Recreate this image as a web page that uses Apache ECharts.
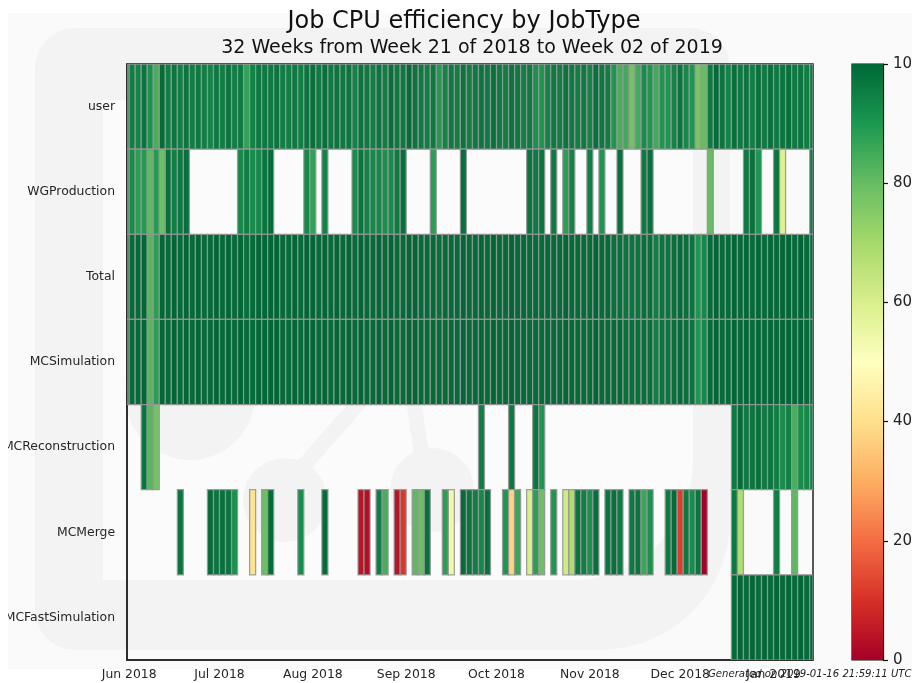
<!DOCTYPE html>
<html><head><meta charset="utf-8">
<style>html,body{margin:0;padding:0;background:#fff}#c{width:912px;height:683px}</style>
<script src="https://cdn.jsdelivr.net/npm/echarts@6/dist/echarts.min.js"></script>
</head><body><div id="c"></div>
<script>
const n = null;
const jobTypes = ['user','WGProduction','Total','MCSimulation','MCReconstruction','MCMerge','MCFastSimulation'];
const user = [94,95,94,97,91,84,99,95,97,95, 97,95,96,95,94,96,95,97,95,96, 87,94,96,96,96,97,95,95,96,95, 97,98,96,98,96,97,96,97,94,97, 96,95,97,95,98,96,96,99,97,96, 95,96,89,94,96,95,97,95,96,97, 96,98,96,95,97,96,95,96,91,90, 94,96,95,97,96,95,96,94,98,96, 95,90,84,85,78,85,92,90,85,90, 90,94,97,93,90,77,80,96,99,97, 94,98,96,97,95,98,96,98,96,97, 98,96,97,95,96];
const wgProduction = [92,92,88,89,81,89,79,98,95,96, 98,n,n,n,n,n,n,n,n,93, 95,92,93,97,99,n,n,n,n,n, 93,87,n,94,n,n,n,n,92,97, 94,93,93,91,92,96,98,n,n,n, n,88,n,n,n,n,98,n,n,n, n,n,n,n,n,n,n,97,96,97, n,96,n,88,94,n,n,95,n,90, n,n,98,n,n,n,96,98,n,n, n,n,n,n,n,n,n,80,n,n, n,n,n,96,98,90,n,n,97,59, n,n,n,n,96];
const total = [99,99,99,100,82,88,100,99,100,99, 100,99,100,99,99,100,99,100,99,100, 98,99,100,100,100,100,99,99,100,99, 100,100,99,100,99,100,99,100,99,100, 99,99,100,99,100,99,99,100,100,99, 99,99,98,99,99,99,100,99,99,100, 99,100,99,99,100,99,99,99,99,99, 99,99,99,100,99,99,99,99,100,99, 99,98,98,97,97,97,98,98,95,97, 97,98,99,98,97,90,93,99,100,99, 99,100,99,100,99,100,99,100,99,100, 100,99,100,99,99];
const mcSimulation = [99,99,99,100,82,88,100,99,100,99, 100,99,100,99,99,100,99,100,99,100, 99,99,100,100,100,100,99,99,100,99, 100,100,99,100,99,100,99,100,99,100, 99,99,100,99,100,99,99,100,100,99, 99,99,99,99,99,99,100,99,99,100, 99,100,99,99,100,99,99,99,99,99, 99,99,99,100,99,99,99,99,100,99, 99,99,99,98,98,98,98,98,95,97, 97,98,99,98,97,90,93,99,100,99, 99,100,99,100,99,100,99,100,99,100, 100,99,100,99,99];
const mcReconstruction = [n,n,n,97,82,78,n,n,n,n, n,n,n,n,n,n,n,n,n,n, n,n,n,n,n,n,n,n,n,n, n,n,n,n,n,n,n,n,n,n, n,n,n,n,n,n,n,n,n,n, n,n,n,n,n,n,n,n,n,95, n,n,n,n,96,n,n,n,97,90, n,n,n,n,n,n,n,n,n,n, n,n,n,n,n,n,n,n,n,n, n,n,n,n,n,n,n,n,n,n, n,96,99,96,97,98,96,97,95,92, 95,84,92,93,94];
const mcMerge = [n,n,n,n,n,n,n,n,n,97, n,n,n,n,99,97,98,97,91,n, n,41,n,79,99,n,n,n,n,92, n,n,n,99,n,n,n,n,n,4, 3,n,95,84,n,4,11,n,81,79, 98,n,n,88,54,n,99,97,95,93, 98,n,n,90,38,86,n,60,88,79, n,90,n,62,68,97,95,91,98,n, 97,98,96,n,96,97,86,91,n,n, 96,99,12,96,92,97,0,n,n,n, n,96,68,n,n,n,n,n,95,n, n,81,n,n,n];
const mcFastSimulation = [n,n,n,n,n,n,n,n,n,n, n,n,n,n,n,n,n,n,n,n, n,n,n,n,n,n,n,n,n,n, n,n,n,n,n,n,n,n,n,n, n,n,n,n,n,n,n,n,n,n, n,n,n,n,n,n,n,n,n,n, n,n,n,n,n,n,n,n,n,n, n,n,n,n,n,n,n,n,n,n, n,n,n,n,n,n,n,n,n,n, n,n,n,n,n,n,n,n,n,n, n,99,100,99,100,99,100,99,100,99, 100,99,100,99,100];
const rows = [user, wgProduction, total, mcSimulation, mcReconstruction, mcMerge, mcFastSimulation];
const tickDates = ['2018-06-01','2018-07-01','2018-08-01','2018-09-01','2018-10-01','2018-11-01','2018-12-01','2019-01-01'];
const tickLabels = ['Jun 2018','Jul 2018','Aug 2018','Sep 2018','Oct 2018','Nov 2018','Dec 2018','Jan 2019'];
const colorbarTicks = [0,20,40,60,80,100];
const colorbarTop = [100];
const palette = ['#a50026','#d73027','#f46d43','#fdae61','#fee08b','#ffffbf','#d9ef8b','#a6d96a','#66bd63','#1a9850','#006837'];
const DAY = 86400000;
const firstBin = Date.UTC(2018,5,1);
const cells = [];
rows.forEach((r,ri)=>r.forEach((v,k)=>{
  if(v!==null){ const s = firstBin + (k-1)*2*DAY; cells.push([s, s+2*DAY, ri, v]); }
}));
const tickTimes = tickDates.map(d=>Date.parse(d+'T00:00:00Z'));
const font = 'DejaVu Sans';
const chart = echarts.init(document.getElementById('c'), null, {renderer:'canvas'});
const g1 = '#f3f3f3', g0 = '#fbfbfb';
chart.setOption({
  animation:false, backgroundColor:'#fff',
  title:[
    {text:'Job CPU efficiency by JobType', left:459, top:5, textAlign:'center', textStyle:{fontFamily:font,fontSize:24,fontWeight:'normal',color:'#111'}},
    {text:'32 Weeks from Week 21 of 2018 to Week 02 of 2019', left:467, top:34, textAlign:'center', textStyle:{fontFamily:font,fontSize:19,fontWeight:'normal',color:'#111'}},
    {text:'Generated on 2019-01-16 21:59:11 UTC', left:703, top:664, textStyle:{fontFamily:font,fontSize:10.1,fontStyle:'italic',fontWeight:'normal',color:'#222'}}
  ],
  graphic:[
    {type:'rect',z:-10,shape:{x:8,y:13,width:904,height:656},style:{fill:'#fafafa'}},
    {type:'rect',z:-9,shape:{x:35,y:28,width:695,height:622,r:[40,40,130,40]},style:{fill:g1}},
    {type:'rect',z:-8,shape:{x:103,y:100,width:590,height:480,r:[0,0,120,0]},style:{fill:g0}},
    {type:'circle',z:-7,shape:{cx:190,cy:395,r:65},style:{fill:g1}},
    {type:'circle',z:-7,shape:{cx:285,cy:500,r:42},style:{fill:g1}},
    {type:'circle',z:-7,shape:{cx:432,cy:490,r:42},style:{fill:g1}},
    {type:'line',z:-7,shape:{x1:300,y1:470,x2:370,y2:390},style:{stroke:g1,lineWidth:15}},
    {type:'line',z:-7,shape:{x1:412,y1:390,x2:424,y2:470},style:{stroke:g1,lineWidth:15}},
    {type:'rect',z:100,shape:{x:0,y:0,width:8,height:683},style:{fill:'#fff'}}
  ],
  grid:[
    {left:127,top:64,width:686,height:596,outerBoundsMode:'none',show:true,borderColor:'#222',borderWidth:1.5,backgroundColor:'transparent'},
    {left:852,top:64,width:31,height:596,outerBoundsMode:'none',show:true,borderColor:'#111',borderWidth:1.2,backgroundColor:'transparent'}
  ],
  xAxis:[
    {type:'value',gridIndex:0,min:firstBin-0.72*DAY,max:firstBin+227.1*DAY,
     axisLine:{show:true,onZero:false,lineStyle:{color:'#222',width:1.5}},axisTick:{show:false},splitLine:{show:false},
     axisLabel:{customValues:tickTimes,margin:9,fontFamily:font,fontSize:12.4,color:'#262626',hideOverlap:false,
       formatter:v=>tickLabels[tickTimes.indexOf(v)]||''}},
    {type:'category',gridIndex:1,data:['bar'],show:false}
  ],
  yAxis:[
    {type:'category',gridIndex:0,data:jobTypes,inverse:true,
     axisLine:{show:true,onZero:false,lineStyle:{color:'#222',width:1.5}},axisTick:{show:false},splitLine:{show:false},
     axisLabel:{margin:12,padding:[2,0,0,0],fontFamily:font,fontSize:12.4,color:'#262626',interval:0}},
    {type:'value',gridIndex:1,min:0,max:100,position:'right',interval:20,
     axisLine:{show:true,lineStyle:{color:'#111',width:1.2}},axisTick:{show:true,length:5,lineStyle:{color:'#111',width:1.2}},splitLine:{show:false},
     axisLabel:{margin:10,fontFamily:font,fontSize:15,color:'#222',customValues:colorbarTicks}}
  ],
  visualMap:{show:false,type:'continuous',min:0,max:100,dimension:3,seriesIndex:0,inRange:{color:palette}},
  series:[
    {type:'custom',xAxisIndex:0,yAxisIndex:0,clip:true,data:cells,encode:{x:[0,1],y:2},
     renderItem(params,api){
       const a=api.coord([api.value(0),api.value(2)]), b=api.coord([api.value(1),api.value(2)]);
       const h=api.size([0,1])[1];
       const cs=params.coordSys;
       const rect=echarts.graphic.clipRectByRect({x:a[0],y:a[1]-h/2,width:b[0]-a[0],height:h},{x:cs.x,y:cs.y,width:cs.width,height:cs.height});
       if(!rect) return;
       return {type:'rect',shape:rect,style:{fill:api.visual('color'),stroke:'rgba(150,150,150,0.9)',lineWidth:1.25}};
     }},
    {type:'bar',xAxisIndex:1,yAxisIndex:1,barWidth:'100%',data:colorbarTop,silent:true,
     itemStyle:{color:new echarts.graphic.LinearGradient(0,1,0,0,palette.map((c,i)=>({offset:i/(palette.length-1),color:c})))}}
  ]
});
</script></body></html>
